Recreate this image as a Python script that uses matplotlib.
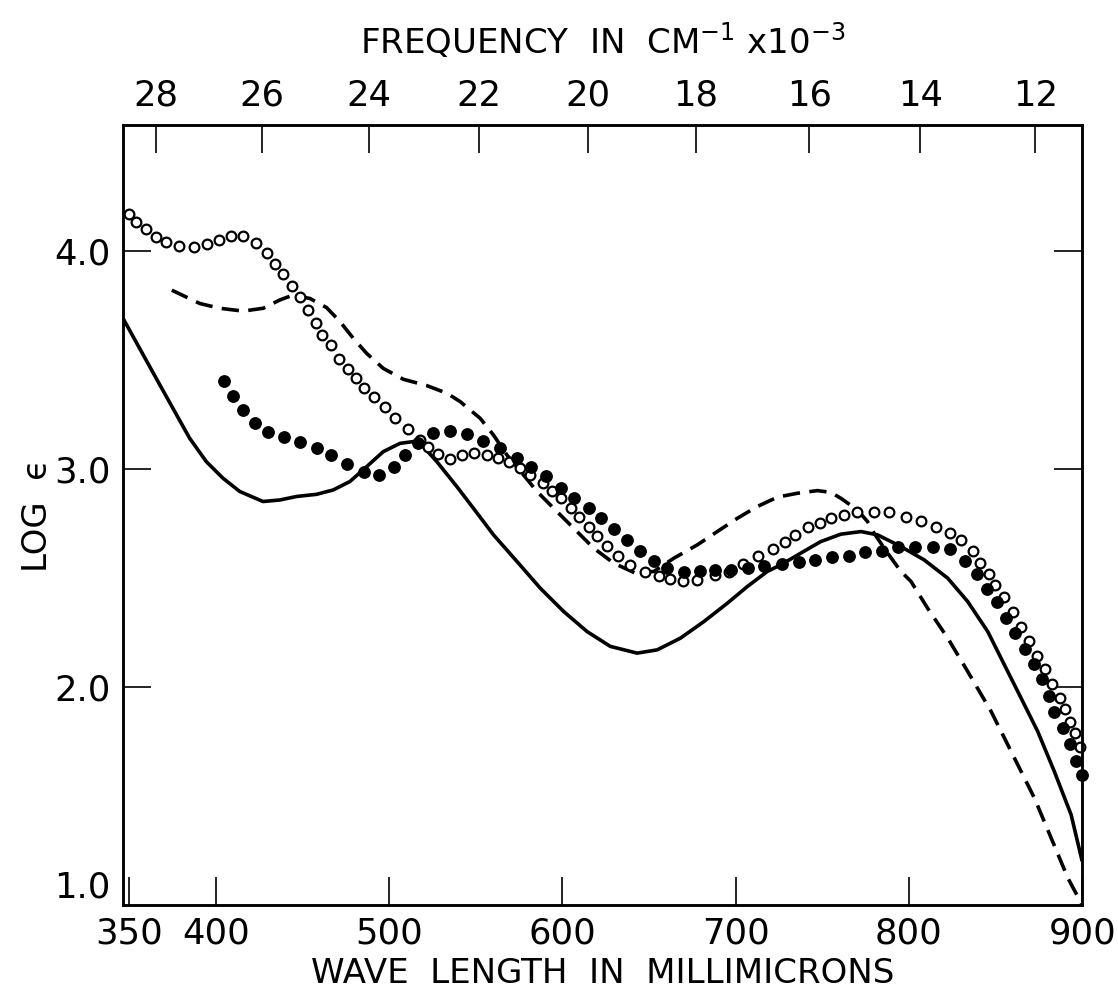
import matplotlib
matplotlib.use("Agg")
import matplotlib.pyplot as plt

# ── Data ────────────────────────────────────────────────────────────────────

# solid curve
solid_nm = [346.5, 356.1, 365.7, 375.3, 385.0, 394.6, 404.2, 413.9, 427.3, 437.0,
            446.6, 458.2, 467.8, 477.5, 487.1, 496.7, 506.4, 514.0, 519.8, 527.6,
            539.1, 548.7, 560.3, 573.8, 587.3, 600.8, 614.3, 627.7, 643.2, 654.7,
            668.2, 681.7, 695.2, 706.8, 718.3, 726.0, 737.6, 749.1, 760.7, 772.3,
            781.9, 795.4, 808.8, 822.4, 833.9, 845.5, 855.1, 864.7, 874.3, 883.9,
            893.6, 900.0]
solid_log = [3.693, 3.555, 3.417, 3.280, 3.142, 3.035, 2.959, 2.898, 2.852, 2.859,
             2.875, 2.885, 2.905, 2.944, 3.012, 3.081, 3.119, 3.127, 3.104, 3.035,
             2.921, 2.821, 2.699, 2.577, 2.454, 2.347, 2.255, 2.187, 2.156, 2.171,
             2.225, 2.301, 2.385, 2.462, 2.531, 2.561, 2.615, 2.668, 2.702, 2.714,
             2.699, 2.645, 2.584, 2.500, 2.393, 2.255, 2.102, 1.950, 1.797, 1.613,
             1.414, 1.200]

# dashed curve
dash_nm = [374.7, 390.8, 402.3, 415.8, 427.4, 437.0, 444.7, 454.3, 464.0, 471.7,
           479.4, 487.1, 496.7, 508.3, 521.8, 533.4, 541.0, 552.6, 560.3, 568.0,
           577.6, 585.4, 596.9, 608.5, 618.1, 629.7, 642.2, 652.8, 664.4, 677.9,
           689.4, 701.0, 712.5, 724.1, 735.7, 747.2, 754.9, 760.7, 770.3, 776.1,
           779.9, 787.7, 795.4, 801.2, 810.8, 822.4, 833.9, 847.4, 860.9, 872.4,
           882.1, 891.7, 900.0]
dash_log = [3.822, 3.761, 3.739, 3.726, 3.739, 3.777, 3.800, 3.784, 3.742, 3.678,
            3.601, 3.532, 3.463, 3.413, 3.384, 3.349, 3.311, 3.234, 3.157, 3.066,
            2.974, 2.898, 2.806, 2.714, 2.638, 2.569, 2.523, 2.531, 2.592, 2.653,
            2.714, 2.775, 2.829, 2.872, 2.890, 2.902, 2.894, 2.867, 2.813, 2.760,
            2.706, 2.615, 2.531, 2.485, 2.362, 2.225, 2.072, 1.889, 1.674, 1.491,
            1.307, 1.124, 1.000]

# open circles
open_nm = [350.0, 353.8, 359.9, 365.7, 371.5, 378.8, 387.3, 395.2, 401.7, 408.7,
           416.0, 423.1, 429.7, 434.3, 439.1, 443.9, 448.6, 453.4, 457.8, 461.4,
           466.3, 471.3, 476.1, 480.8, 485.7, 491.3, 497.7, 503.5, 511.2, 517.9,
           522.7, 528.5, 535.3, 542.0, 549.3, 556.6, 562.8, 569.4, 575.7, 581.5,
           588.6, 594.0, 599.2, 605.0, 609.4, 615.2, 620.1, 625.8, 632.4, 639.3,
           648.0, 655.7, 662.4, 669.8, 677.5, 688.0, 696.1, 704.2, 712.9, 721.6,
           728.3, 734.3, 742.0, 748.6, 755.3, 762.3, 770.3, 779.6, 788.6, 798.3,
           806.9, 815.6, 823.5, 830.1, 837.0, 841.2, 846.4, 849.9, 855.1, 860.0,
           864.4, 869.2, 874.0, 878.6, 882.7, 887.3, 889.8, 893.1, 896.0, 898.5]
open_log = [4.174, 4.136, 4.101, 4.067, 4.044, 4.024, 4.018, 4.034, 4.052, 4.070,
            4.073, 4.040, 3.991, 3.940, 3.896, 3.839, 3.790, 3.729, 3.670, 3.616,
            3.570, 3.506, 3.459, 3.417, 3.375, 3.333, 3.284, 3.234, 3.185, 3.134,
            3.104, 3.069, 3.048, 3.066, 3.074, 3.067, 3.052, 3.032, 3.008, 2.975,
            2.938, 2.898, 2.867, 2.821, 2.780, 2.734, 2.694, 2.648, 2.602, 2.561,
            2.528, 2.511, 2.495, 2.488, 2.492, 2.515, 2.528, 2.566, 2.600, 2.634,
            2.665, 2.699, 2.733, 2.755, 2.775, 2.790, 2.803, 2.806, 2.803, 2.780,
            2.763, 2.737, 2.706, 2.676, 2.625, 2.569, 2.520, 2.469, 2.413, 2.347,
            2.278, 2.214, 2.145, 2.083, 2.015, 1.950, 1.899, 1.838, 1.789, 1.725]

# filled circles
filled_nm = [404.8, 409.7, 415.8, 422.4, 430.2, 439.3, 448.6, 458.2, 466.3, 475.9,
             485.5, 494.2, 503.1, 509.0, 516.5, 525.6, 535.3, 544.9, 554.5, 564.2,
             573.8, 582.1, 590.8, 599.2, 606.5, 615.2, 622.1, 629.7, 637.4, 644.7,
             652.8, 660.5, 670.1, 679.4, 688.0, 697.1, 707.1, 716.2, 727.0, 736.6,
             745.8, 755.9, 765.5, 774.7, 784.4, 793.8, 803.6, 813.7, 823.5, 832.4,
             839.3, 845.1, 850.7, 856.1, 861.3, 867.1, 872.1, 876.6, 880.8, 884.0,
             888.9, 893.0, 896.6, 900.0]
filled_log = [3.407, 3.336, 3.272, 3.214, 3.170, 3.147, 3.124, 3.099, 3.064, 3.023,
              2.986, 2.972, 3.009, 3.064, 3.120, 3.168, 3.177, 3.162, 3.132, 3.096,
              3.054, 3.012, 2.967, 2.916, 2.870, 2.824, 2.778, 2.725, 2.676, 2.625,
              2.579, 2.546, 2.528, 2.531, 2.538, 2.538, 2.546, 2.555, 2.564, 2.573,
              2.583, 2.596, 2.604, 2.619, 2.627, 2.645, 2.645, 2.642, 2.633, 2.579,
              2.520, 2.451, 2.389, 2.317, 2.248, 2.176, 2.104, 2.037, 1.960, 1.887,
              1.812, 1.739, 1.662, 1.598]

# axes ticks
wl_ticks = [400, 500, 600, 700, 800]
wl_labels = ["350", "400", "500", "600", "700", "800", "900"]
log_ticks = [1.0, 2.0, 3.0, 4.0]
log_labels = ["1.0", "2.0", "3.0", "4.0"]
freq_labels = ["28", "26", "24", "22", "20", "18", "16", "14", "12"]
freq_tick_nm = [365.6, 426.6, 488.4, 552.0, 615.0, 677.0, 742.5, 806.6, 873.0]

# ── Figure ──────────────────────────────────────────────────────────────────

plt.rcParams["font.family"] = ["DejaVu Sans"]
plt.rcParams["mathtext.fontset"] = "dejavusans"

TICK_FS = 25.5
LABEL_FS = 24.5

fig = plt.figure(figsize=(11.18, 9.98), dpi=100)
ax = fig.add_axes([0.110, 0.0932, 0.858, 0.7815])

ax.plot(solid_nm, solid_log, color="black", lw=2.6, solid_capstyle="butt")
ax.plot(dash_nm, dash_log, color="black", lw=2.6, linestyle=(0, (4.8, 2.6)))
ax.plot(open_nm, open_log, linestyle="none", marker="o", ms=7,
        mfc="white", mec="black", mew=1.6, clip_on=False)
ax.plot(filled_nm, filled_log, linestyle="none", marker="o", ms=8.2,
        mfc="black", mec="black", clip_on=False, zorder=3)

ax.set_xlim(346.5, 900)
ax.set_ylim(1.0, 4.58)

# bottom / left ticks, labels
ax.set_xticks([350] + wl_ticks + [900])
ax.set_xticklabels(wl_labels)
ax.set_yticks(log_ticks)
ax.set_yticklabels(log_labels)
ax.tick_params(axis="both", direction="in", length=20, width=1.2,
               labelsize=TICK_FS, top=False, right=True)
ax.tick_params(axis="x", pad=8)
ax.tick_params(axis="y", pad=9)
# no tick marks at the corners
for t in (ax.xaxis.get_major_ticks()[0], ax.xaxis.get_major_ticks()[-1],
          ax.yaxis.get_major_ticks()[0]):
    t.tick1line.set_visible(False)
    t.tick2line.set_visible(False)
ax.get_yticklabels()[0].set_va("bottom")

for s in ax.spines.values():
    s.set_linewidth(1.8)

ax.set_xlabel("WAVE  LENGTH  IN  MILLIMICRONS", fontsize=LABEL_FS, labelpad=5)
ax.set_ylabel("LOG  \u03f5", fontsize=LABEL_FS, labelpad=0)

# top frequency scale
top = ax.twiny()
top.set_xlim(ax.get_xlim())
top.set_xticks(freq_tick_nm)
top.set_xticklabels(freq_labels)
top.tick_params(axis="x", direction="in", length=20, width=1.2,
                labelsize=TICK_FS, pad=9)
top.set_xlabel("FREQUENCY  IN  CM$^{-1}$ x10$^{-3}$", fontsize=LABEL_FS,
               labelpad=18)
for s in top.spines.values():
    s.set_linewidth(1.8)

fig.savefig("out.png", dpi=100)
